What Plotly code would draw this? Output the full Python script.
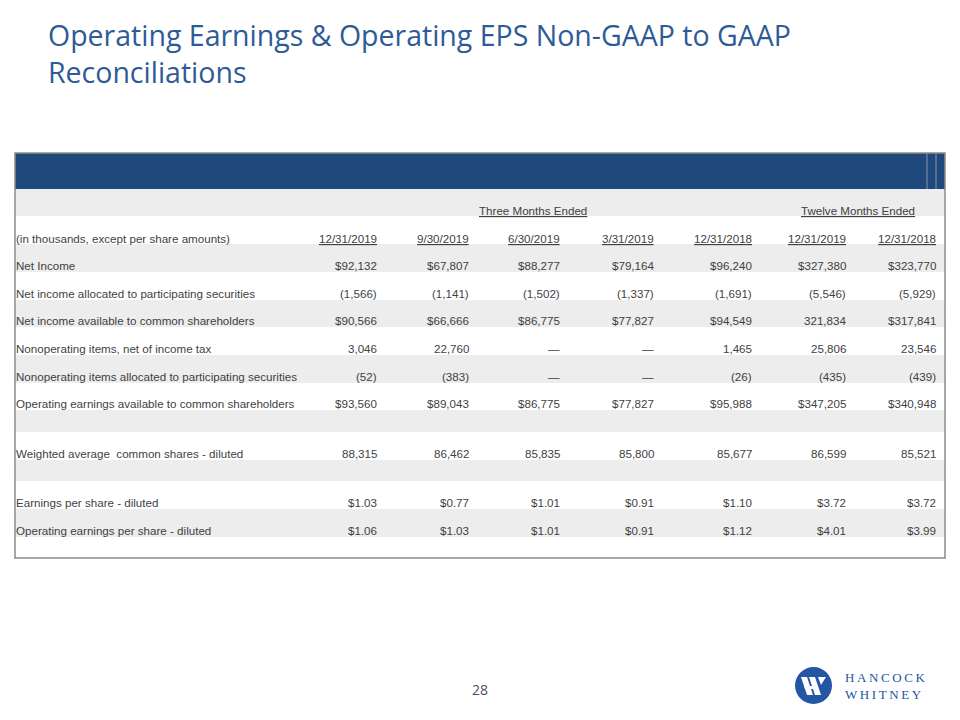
import plotly.graph_objects as go

# ---------------- data ----------------
title_lines = ["Operating Earnings & Operating EPS Non-GAAP to GAAP", "Reconciliations"]
group_headers = ["Three Months Ended", "Twelve Months Ended"]
unit_label = "(in thousands, except per share amounts)"
periods = ["12/31/2019", "9/30/2019", "6/30/2019", "3/31/2019", "12/31/2018", "12/31/2019", "12/31/2018"]
row_labels = [
    "Net Income",
    "Net income allocated to participating securities",
    "Net income available to common shareholders",
    "Nonoperating items, net of income tax",
    "Nonoperating items allocated to participating securities",
    "Operating earnings available to common shareholders",
    "",
    "Weighted average  common shares - diluted",
    "",
    "Earnings per share - diluted",
    "Operating earnings per share - diluted",
    "",
]
q4_2019 = ["$92,132", "(1,566)", "$90,566", "3,046", "(52)", "$93,560", "", "88,315", "", "$1.03", "$1.06", ""]
q3_2019 = ["$67,807", "(1,141)", "$66,666", "22,760", "(383)", "$89,043", "", "86,462", "", "$0.77", "$1.03", ""]
q2_2019 = ["$88,277", "(1,502)", "$86,775", "—", "—", "$86,775", "", "85,835", "", "$1.01", "$1.01", ""]
q1_2019 = ["$79,164", "(1,337)", "$77,827", "—", "—", "$77,827", "", "85,800", "", "$0.91", "$0.91", ""]
q4_2018 = ["$96,240", "(1,691)", "$94,549", "1,465", "(26)", "$95,988", "", "85,677", "", "$1.10", "$1.12", ""]
fy_2019 = ["$327,380", "(5,546)", "321,834", "25,806", "(435)", "$347,205", "", "86,599", "", "$3.72", "$4.01", ""]
fy_2018 = ["$323,770", "(5,929)", "$317,841", "23,546", "(439)", "$340,948", "", "85,521", "", "$3.72", "$3.99", ""]
columns = [q4_2019, q3_2019, q2_2019, q1_2019, q4_2018, fy_2019, fy_2018]
page_number = "28"
logo_lines = ["HANCOCK", "WHITNEY"]

# ---------------- layout constants (pixel space) ----------------
TXT = "#3F3F3F"
NAVY = "#1F497D"
GRAY = "#EDEDED"
FONT = "Liberation Sans, Arial, sans-serif"
FS = 11.6
tbl_left, tbl_right, tbl_top, tbl_bottom = 15, 945, 153, 558
band_bottom = 189
col_right = [379, 471, 562, 656, 754, 848, 938]
group_x = [533, 858]
row_edges = [244, 272, 300, 327, 355, 383, 410, 432, 460, 481, 509, 537, 558]
OFF = 8  # default page body margin

shapes = []
annotations = []

# dark header band
shapes.append(dict(type="rect", xref="x", yref="y", x0=tbl_left, x1=tbl_right, y0=tbl_top, y1=band_bottom,
                   fillcolor=NAVY, line=dict(width=0), layer="below"))
for xv in (927, 936):
    shapes.append(dict(type="line", xref="x", yref="y", x0=xv, x1=xv, y0=tbl_top, y1=band_bottom,
                       line=dict(color="#8A96A8", width=1)))
# group header row (gray)
shapes.append(dict(type="rect", xref="x", yref="y", x0=tbl_left, x1=tbl_right, y0=band_bottom, y1=216,
                   fillcolor=GRAY, line=dict(width=0), layer="below"))
# body row bands
for i in range(len(row_edges) - 1):
    if i % 2 == 0:
        shapes.append(dict(type="rect", xref="x", yref="y", x0=tbl_left, x1=tbl_right,
                           y0=row_edges[i], y1=row_edges[i + 1],
                           fillcolor=GRAY, line=dict(width=0), layer="below"))
# outer border
shapes.append(dict(type="rect", xref="x", yref="y", x0=tbl_left, x1=tbl_right, y0=tbl_top, y1=tbl_bottom,
                   fillcolor="rgba(0,0,0,0)", line=dict(color="#8C8C8C", width=1.5)))

def cell(text, x, y, anchor="right"):
    annotations.append(dict(text=text, x=x, y=y, xref="x", yref="y", xanchor=anchor, yanchor="middle",
                            showarrow=False, font=dict(family=FONT, size=FS, color=TXT)))

# group headers
for g, gx in zip(group_headers, group_x):
    cell("<u>" + g + "</u>", gx, 210, "center")
# period header row
cell(unit_label, tbl_left - 1, 238, "left")
for p, cx in zip(periods, col_right):
    cell("<u>" + p + "</u>", cx, 238)
# body
for i, lab in enumerate(row_labels):
    y = row_edges[i + 1] - 7
    if lab:
        cell(lab, tbl_left - 1, y, "left")
    for col, cx in zip(columns, col_right):
        if col[i]:
            cell(col[i], cx, y)

# title
annotations.append(dict(text="<br>".join(title_lines), x=46, y=14, xref="x", yref="y",
                        xanchor="left", yanchor="top", align="left", showarrow=False,
                        font=dict(family="Open Sans, sans-serif", size=28.5, color="#2E5B98")))
# page number
annotations.append(dict(text=page_number, x=480, y=689, xref="x", yref="y", xanchor="center",
                        yanchor="middle", showarrow=False,
                        font=dict(family="Open Sans, sans-serif", size=14, color="#44546A")))

# logo
LOGO = "#2456A4"
shapes.append(dict(type="circle", xref="x", yref="y", x0=795, x1=832, y0=667, y1=704,
                   fillcolor=LOGO, line=dict(width=0)))
shapes.append(dict(type="path", xref="x", yref="y",
                   path="M 801 677 L 807 677 L 813 695 L 807 695 Z", fillcolor="white", line=dict(width=0)))
shapes.append(dict(type="path", xref="x", yref="y",
                   path="M 809 677 L 815 677 L 821 695 L 815 695 Z", fillcolor="white", line=dict(width=0)))
shapes.append(dict(type="path", xref="x", yref="y",
                   path="M 804 686 L 817 686 L 818 689 L 805 689 Z", fillcolor="white", line=dict(width=0)))
shapes.append(dict(type="path", xref="x", yref="y",
                   path="M 818 677 L 826 677 L 821 685 Z", fillcolor="white", line=dict(width=0)))
for txt, ly in zip(logo_lines, (677, 694)):
    annotations.append(dict(text="\u2009".join(txt), x=843, y=ly, xref="x", yref="y", xanchor="left",
                            yanchor="middle", showarrow=False,
                            font=dict(family="Liberation Serif, DejaVu Serif, serif", size=13, color=LOGO)))

fig = go.Figure()
fig.add_trace(go.Scatter(x=[OFF, 960], y=[OFF, 720], mode="markers", marker=dict(opacity=0),
                         hoverinfo="skip", showlegend=False))
fig.update_layout(
    width=960 - OFF, height=720 - OFF, margin=dict(l=0, r=0, t=0, b=0, pad=0),
    paper_bgcolor="white", plot_bgcolor="white",
    xaxis=dict(range=[OFF, 960], visible=False, fixedrange=True),
    yaxis=dict(range=[720, OFF], visible=False, fixedrange=True),
    shapes=shapes, annotations=annotations, showlegend=False,
)
fig.write_html("out.html")
